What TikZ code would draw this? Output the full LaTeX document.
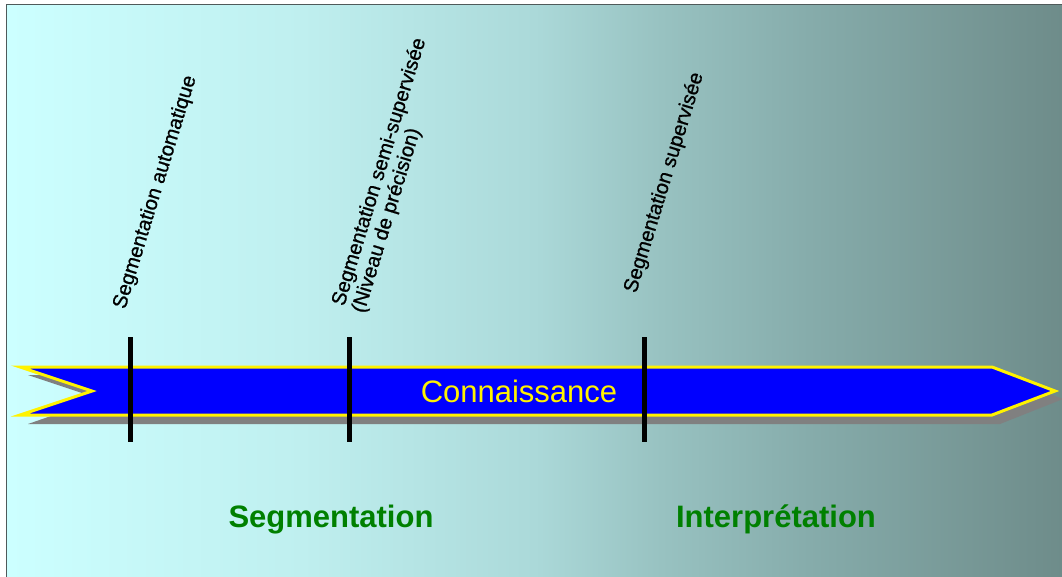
\documentclass[tikz,border=0pt]{standalone}
\usepackage{fontspec}
\setmainfont{Liberation Sans}
\newfontfamily\slantlabelfont[FakeBold=0.8]{Liberation Sans}
\definecolor{bgA}{HTML}{CCFFFF}
\definecolor{bgB}{HTML}{BFEFEF}
\definecolor{bgC}{HTML}{ABD9D9}
\definecolor{bgD}{HTML}{98C2C1}
\definecolor{bgE}{HTML}{86ACAB}
\definecolor{bgF}{HTML}{6E8C8A}
\definecolor{arrowblue}{HTML}{0000FF}
\definecolor{labelgreen}{HTML}{008000}
\definecolor{framegray}{HTML}{4F5A5A}
\pgfdeclarehorizontalshading{bgshade}{100bp}{color(0bp)=(bgA); color(25bp)=(bgA); color(39bp)=(bgB); color(50bp)=(bgC); color(56bp)=(bgD); color(63bp)=(bgE); color(75bp)=(bgF); color(100bp)=(bgF)}
\tikzset{
  tick/.style={line width=5pt, black},
  slanted/.style={rotate=73, anchor=base west, inner sep=0pt, font=\slantlabelfont\fontsize{20.3}{23}\selectfont, text=black},
  phase/.style={anchor=base, inner sep=0pt, font=\fontsize{31}{36}\selectfont\bfseries, text=labelgreen},
}
\begin{document}
\begin{tikzpicture}[x=1pt, y=-1pt]
\useasboundingbox (0,0) rectangle (1062,577);
% background
\fill[white] (0,0) rectangle (1062,577);
\shade[shading=bgshade] (7,5) rectangle (1062,577);
\draw[framegray, line width=1.5pt] (6.5,577) -- (6.5,4.5) -- (1062,4.5);
% arrow shadow
\fill[gray] (28,375) -- (1000,375) -- (1063,399) -- (1000,424) -- (28,424) -- (100,399) -- cycle;
% arrow
\draw[yellow, line width=3pt, fill=arrowblue, line join=miter] (20,367) -- (992,367) -- (1055,391) -- (992,415) -- (20,415) -- (92,391) -- cycle;
\node[inner sep=0pt, text=yellow, font=\fontsize{31}{36}\selectfont] (conn) at (519,391) {Connaissance};
% ticks
\coordinate (t1a) at (130,337); \coordinate (t1b) at (130,442);
\coordinate (t2a) at (349,337); \coordinate (t2b) at (349,442);
\coordinate (t3a) at (644,337); \coordinate (t3b) at (644,442);
\draw[tick] (t1a) -- (t1b);
\draw[tick] (t2a) -- (t2b);
\draw[tick] (t3a) -- (t3b);
% slanted labels
\node[slanted] (lauto) at (125,310) {Segmentation automatique};
\node[slanted] (lsemiA) at (344,307) {Segmentation semi-supervisée};
\node[slanted] (lsemiB) at (364,314) {(Niveau de précision)};
\node[slanted] (lsup) at (636,294) {Segmentation supervisée};
% phases
\node[phase] (pseg) at (331,527) {Segmentation};
\node[phase] (pint) at (776,527) {Interprétation};
\end{tikzpicture}
\end{document}
